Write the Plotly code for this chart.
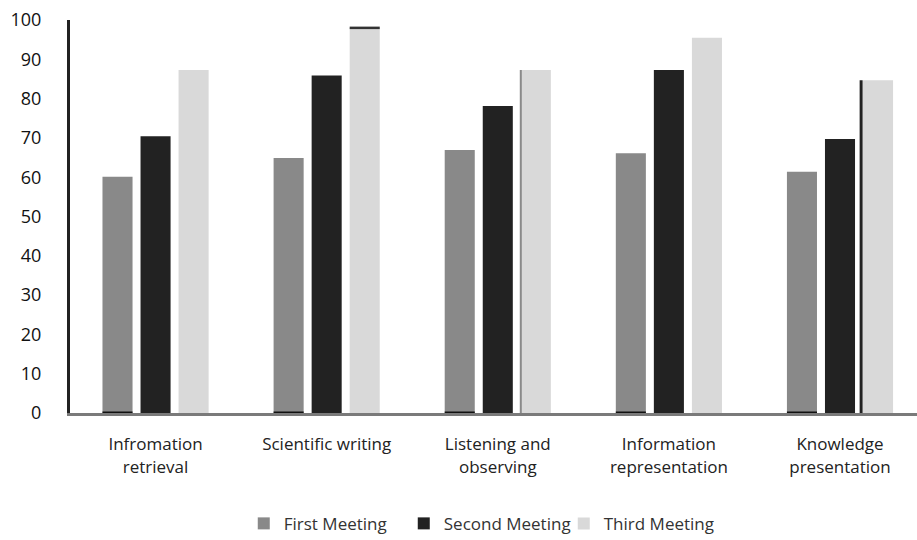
import plotly.graph_objects as go

categories = ["Infromation<br>retrieval", "Scientific writing", "Listening and<br>observing",
              "Information<br>representation", "Knowledge<br>presentation"]
first_meeting = [60.1, 64.9, 66.9, 66.1, 61.4]
second_meeting = [70.4, 85.9, 78.1, 87.3, 69.7]
third_meeting = [87.3, 98.0, 87.3, 95.5, 84.7]

series_names = ["First Meeting", "Second Meeting", "Third Meeting"]
series_colors = ["#898989", "#222222", "#d9d9d9"]

BARGAP = 0.333
GROUPGAP = 0.21

fig = go.Figure()
for name, vals, col in zip(series_names, [first_meeting, second_meeting, third_meeting], series_colors):
    fig.add_trace(go.Bar(x=categories, y=vals, name=name, marker_color=col,
                         marker_line_width=0))


def bar_edges(cat_idx, series_idx, n_series=3):
    """Left/right edge (in category units) of a grouped bar."""
    slot = (1 - BARGAP) / n_series
    centre = cat_idx - (1 - BARGAP) / 2 + slot * (series_idx + 0.5)
    half = slot * (1 - GROUPGAP) / 2
    return centre - half, centre + half


# Dark base segments beneath the first-meeting bars
for i in range(len(categories)):
    x0, x1 = bar_edges(i, 0)
    fig.add_shape(type="line", xref="x", yref="y", x0=x0, x1=x1, y0=0, y1=0,
                  line=dict(color="#111111", width=3), layer="above")

# Dark cap on the Scientific writing third-meeting bar
x0, x1 = bar_edges(1, 2)
fig.add_shape(type="line", xref="x", yref="y", x0=x0, x1=x1,
              y0=third_meeting[1], y1=third_meeting[1],
              line=dict(color="#333333", width=2.5), layer="above")

# Grey edge on the Listening third-meeting bar
x0, x1 = bar_edges(2, 2)
fig.add_shape(type="line", xref="x", yref="y", x0=x0, x1=x0,
              y0=0, y1=third_meeting[2],
              line=dict(color="#8a8a8a", width=2), layer="above")

# Dark rule beside the Knowledge third-meeting bar
x0, x1 = bar_edges(4, 2)
fig.add_shape(type="line", xref="x", yref="y", x0=x0 - 0.011, x1=x0 - 0.011,
              y0=0, y1=third_meeting[4],
              line=dict(color="#222222", width=3), layer="above")

font_family = "Open Sans, Lato, sans-serif"
fig.update_layout(
    width=917, height=540,
    margin=dict(l=70, r=0, t=20, b=127, autoexpand=False),
    paper_bgcolor="white", plot_bgcolor="white",
    barmode="group", bargap=BARGAP, bargroupgap=GROUPGAP,
    font=dict(family=font_family, size=16, color="#1a1a1a"),
    showlegend=True,
    legend=dict(orientation="h", x=0.4885, xanchor="center", y=-0.282, yanchor="middle",
                font=dict(size=17, color="#333333"), itemwidth=30,
                entrywidth=115, entrywidthmode="pixels",
                traceorder="normal"),
)
fig.update_yaxes(range=[0, 100], dtick=10, showgrid=False, zeroline=False,
                 showline=True, linecolor="#222222", linewidth=3, automargin=False,
                 ticks="", ticklabelstandoff=22, tickfont=dict(size=18, color="#111111"))
fig.update_xaxes(range=[-0.5, 4.45], showgrid=False, showline=True, automargin=False,
                 linecolor="#7a7a7a", linewidth=3, ticks="",
                 tickfont=dict(size=17, color="#222222"), ticklabelstandoff=14)

fig.write_html("out.html")
